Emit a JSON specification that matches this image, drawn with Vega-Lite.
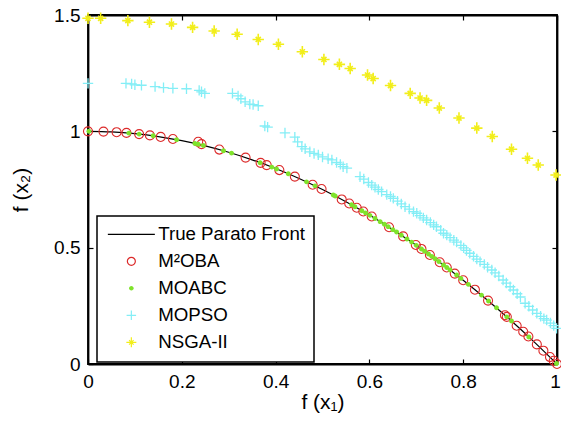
{
"$schema": "https://vega.github.io/schema/vega-lite/v6.json",
"width": 469, "height": 349,
"autosize": {"type": "none"},
"padding": {"left": 88, "top": 15, "right": 4, "bottom": 60},
"background": "white",
"config": {
  "view": {"stroke": "black", "strokeWidth": 1.8},
  "font": "Liberation Sans",
  "axis": {"grid": false, "domainColor": "black", "domainWidth": 1.8, "tickColor": "black", "tickSize": -5, "tickWidth": 1.2, "labelFont": "Liberation Sans", "labelFontSize": 19, "labelColor": "black", "labelPadding": 13, "labelFlush": false, "labelOverlap": false, "titleFont": "Liberation Sans", "titleFontSize": 21, "titleFontWeight": "normal", "titleColor": "black"},
  "legend": {"strokeColor": "black", "strokeWidth": 1.5, "fillColor": "white", "padding": 9, "symbolSize": 100, "symbolStrokeWidth": 1.2, "labelFont": "Liberation Sans", "labelFontSize": 18.7, "labelColor": "black", "labelOffset": 17.5, "symbolOffset": 16, "rowPadding": 7, "labelLimit": 400}
},
"data": {"values": [
{"series":"True Parato Front","f1":0,"f2":1},{"series":"True Parato Front","f1":0.05,"f2":0.9975},{"series":"True Parato Front","f1":0.1,"f2":0.99},{"series":"True Parato Front","f1":0.15,"f2":0.9775},{"series":"True Parato Front","f1":0.2,"f2":0.96},{"series":"True Parato Front","f1":0.25,"f2":0.9375},{"series":"True Parato Front","f1":0.3,"f2":0.91},{"series":"True Parato Front","f1":0.35,"f2":0.8775},{"series":"True Parato Front","f1":0.4,"f2":0.84},{"series":"True Parato Front","f1":0.45,"f2":0.7975},{"series":"True Parato Front","f1":0.5,"f2":0.75},{"series":"True Parato Front","f1":0.55,"f2":0.6975},{"series":"True Parato Front","f1":0.6,"f2":0.64},{"series":"True Parato Front","f1":0.65,"f2":0.5775},{"series":"True Parato Front","f1":0.7,"f2":0.51},{"series":"True Parato Front","f1":0.75,"f2":0.4375},{"series":"True Parato Front","f1":0.8,"f2":0.36},{"series":"True Parato Front","f1":0.85,"f2":0.2775},{"series":"True Parato Front","f1":0.9,"f2":0.19},{"series":"True Parato Front","f1":0.95,"f2":0.0975},{"series":"True Parato Front","f1":1,"f2":0},
{"series":"M²OBA","f1":0,"f2":1},{"series":"M²OBA","f1":0.033,"f2":0.9989},{"series":"M²OBA","f1":0.061,"f2":0.9963},{"series":"M²OBA","f1":0.082,"f2":0.9933},{"series":"M²OBA","f1":0.109,"f2":0.9881},{"series":"M²OBA","f1":0.132,"f2":0.9826},{"series":"M²OBA","f1":0.155,"f2":0.976},{"series":"M²OBA","f1":0.181,"f2":0.9672},{"series":"M²OBA","f1":0.235,"f2":0.955},{"series":"M²OBA","f1":0.242,"f2":0.945},{"series":"M²OBA","f1":0.28,"f2":0.9216},{"series":"M²OBA","f1":0.336,"f2":0.8871},{"series":"M²OBA","f1":0.368,"f2":0.8646},{"series":"M²OBA","f1":0.381,"f2":0.8548},{"series":"M²OBA","f1":0.408,"f2":0.8335},{"series":"M²OBA","f1":0.441,"f2":0.8055},{"series":"M²OBA","f1":0.479,"f2":0.7706},{"series":"M²OBA","f1":0.498,"f2":0.752},{"series":"M²OBA","f1":0.541,"f2":0.7073},{"series":"M²OBA","f1":0.557,"f2":0.6898},{"series":"M²OBA","f1":0.573,"f2":0.6717},{"series":"M²OBA","f1":0.587,"f2":0.6554},{"series":"M²OBA","f1":0.605,"f2":0.634},{"series":"M²OBA","f1":0.642,"f2":0.5878},{"series":"M²OBA","f1":0.672,"f2":0.5484},{"series":"M²OBA","f1":0.699,"f2":0.5114},{"series":"M²OBA","f1":0.711,"f2":0.4945},{"series":"M²OBA","f1":0.729,"f2":0.4686},{"series":"M²OBA","f1":0.75,"f2":0.4375},{"series":"M²OBA","f1":0.765,"f2":0.4148},{"series":"M²OBA","f1":0.782,"f2":0.3885},{"series":"M²OBA","f1":0.8,"f2":0.36},{"series":"M²OBA","f1":0.825,"f2":0.3194},{"series":"M²OBA","f1":0.853,"f2":0.2724},{"series":"M²OBA","f1":0.889,"f2":0.2097},{"series":"M²OBA","f1":0.893,"f2":0.2026},{"series":"M²OBA","f1":0.914,"f2":0.1646},{"series":"M²OBA","f1":0.928,"f2":0.1388},{"series":"M²OBA","f1":0.939,"f2":0.1183},{"series":"M²OBA","f1":0.957,"f2":0.0842},{"series":"M²OBA","f1":0.971,"f2":0.0572},{"series":"M²OBA","f1":0.985,"f2":0.0298},{"series":"M²OBA","f1":0.993,"f2":0.014},{"series":"M²OBA","f1":1,"f2":0},
{"series":"MOABC","f1":0.002,"f2":1},{"series":"MOABC","f1":0.087,"f2":0.9924},{"series":"MOABC","f1":0.109,"f2":0.9881},{"series":"MOABC","f1":0.139,"f2":0.9807},{"series":"MOABC","f1":0.189,"f2":0.9643},{"series":"MOABC","f1":0.228,"f2":0.948},{"series":"MOABC","f1":0.235,"f2":0.9448},{"series":"MOABC","f1":0.246,"f2":0.9395},{"series":"MOABC","f1":0.289,"f2":0.9165},{"series":"MOABC","f1":0.306,"f2":0.9064},{"series":"MOABC","f1":0.367,"f2":0.8653},{"series":"MOABC","f1":0.392,"f2":0.8463},{"series":"MOABC","f1":0.402,"f2":0.8384},{"series":"MOABC","f1":0.427,"f2":0.8177},{"series":"MOABC","f1":0.466,"f2":0.7828},{"series":"MOABC","f1":0.484,"f2":0.7657},{"series":"MOABC","f1":0.523,"f2":0.7265},{"series":"MOABC","f1":0.527,"f2":0.7223},{"series":"MOABC","f1":0.562,"f2":0.6842},{"series":"MOABC","f1":0.569,"f2":0.6762},{"series":"MOABC","f1":0.584,"f2":0.6589},{"series":"MOABC","f1":0.592,"f2":0.6495},{"series":"MOABC","f1":0.601,"f2":0.6388},{"series":"MOABC","f1":0.612,"f2":0.6255},{"series":"MOABC","f1":0.623,"f2":0.6119},{"series":"MOABC","f1":0.632,"f2":0.6006},{"series":"MOABC","f1":0.64,"f2":0.5904},{"series":"MOABC","f1":0.65,"f2":0.5775},{"series":"MOABC","f1":0.658,"f2":0.567},{"series":"MOABC","f1":0.668,"f2":0.5538},{"series":"MOABC","f1":0.68,"f2":0.5376},{"series":"MOABC","f1":0.69,"f2":0.5239},{"series":"MOABC","f1":0.7,"f2":0.51},{"series":"MOABC","f1":0.711,"f2":0.4945},{"series":"MOABC","f1":0.718,"f2":0.4845},{"series":"MOABC","f1":0.726,"f2":0.4729},{"series":"MOABC","f1":0.733,"f2":0.4627},{"series":"MOABC","f1":0.74,"f2":0.4524},{"series":"MOABC","f1":0.748,"f2":0.4405},{"series":"MOABC","f1":0.758,"f2":0.4254},{"series":"MOABC","f1":0.765,"f2":0.4148},{"series":"MOABC","f1":0.772,"f2":0.404},{"series":"MOABC","f1":0.786,"f2":0.3822},{"series":"MOABC","f1":0.795,"f2":0.368},{"series":"MOABC","f1":0.811,"f2":0.3423},{"series":"MOABC","f1":0.839,"f2":0.2961},{"series":"MOABC","f1":0.854,"f2":0.2707},{"series":"MOABC","f1":0.871,"f2":0.2414},{"series":"MOABC","f1":0.893,"f2":0.2026},{"series":"MOABC","f1":0.903,"f2":0.1846},{"series":"MOABC","f1":0.94,"f2":0.1164},{"series":"MOABC","f1":0.999,"f2":0.002},
{"series":"MOPSO","f1":0,"f2":1.206},{"series":"MOPSO","f1":0.081,"f2":1.206},{"series":"MOPSO","f1":0.093,"f2":1.204},{"series":"MOPSO","f1":0.1,"f2":1.2},{"series":"MOPSO","f1":0.114,"f2":1.198},{"series":"MOPSO","f1":0.143,"f2":1.192},{"series":"MOPSO","f1":0.161,"f2":1.188},{"series":"MOPSO","f1":0.181,"f2":1.185},{"series":"MOPSO","f1":0.21,"f2":1.183},{"series":"MOPSO","f1":0.237,"f2":1.176},{"series":"MOPSO","f1":0.242,"f2":1.17},{"series":"MOPSO","f1":0.249,"f2":1.163},{"series":"MOPSO","f1":0.308,"f2":1.163},{"series":"MOPSO","f1":0.32,"f2":1.152},{"series":"MOPSO","f1":0.326,"f2":1.14},{"series":"MOPSO","f1":0.335,"f2":1.127},{"series":"MOPSO","f1":0.345,"f2":1.117},{"series":"MOPSO","f1":0.352,"f2":1.115},{"series":"MOPSO","f1":0.363,"f2":1.11},{"series":"MOPSO","f1":0.377,"f2":1.023},{"series":"MOPSO","f1":0.383,"f2":1.018},{"series":"MOPSO","f1":0.42,"f2":0.993},{"series":"MOPSO","f1":0.441,"f2":0.975},{"series":"MOPSO","f1":0.447,"f2":0.955},{"series":"MOPSO","f1":0.456,"f2":0.934},{"series":"MOPSO","f1":0.463,"f2":0.925},{"series":"MOPSO","f1":0.473,"f2":0.912},{"series":"MOPSO","f1":0.482,"f2":0.905},{"series":"MOPSO","f1":0.491,"f2":0.899},{"series":"MOPSO","f1":0.5,"f2":0.89},{"series":"MOPSO","f1":0.512,"f2":0.882},{"series":"MOPSO","f1":0.52,"f2":0.877},{"series":"MOPSO","f1":0.53,"f2":0.866},{"series":"MOPSO","f1":0.538,"f2":0.858},{"series":"MOPSO","f1":0.544,"f2":0.848},{"series":"MOPSO","f1":0.552,"f2":0.842},{"series":"MOPSO","f1":0.58,"f2":0.805},{"series":"MOPSO","f1":0.588,"f2":0.795},{"series":"MOPSO","f1":0.598,"f2":0.78},{"series":"MOPSO","f1":0.605,"f2":0.769},{"series":"MOPSO","f1":0.612,"f2":0.76},{"series":"MOPSO","f1":0.619,"f2":0.75},{"series":"MOPSO","f1":0.626,"f2":0.741},{"series":"MOPSO","f1":0.637,"f2":0.728},{"series":"MOPSO","f1":0.645,"f2":0.72},{"series":"MOPSO","f1":0.651,"f2":0.712},{"series":"MOPSO","f1":0.66,"f2":0.7},{"series":"MOPSO","f1":0.668,"f2":0.688},{"series":"MOPSO","f1":0.676,"f2":0.676},{"series":"MOPSO","f1":0.685,"f2":0.666},{"series":"MOPSO","f1":0.694,"f2":0.655},{"series":"MOPSO","f1":0.701,"f2":0.648},{"series":"MOPSO","f1":0.708,"f2":0.638},{"series":"MOPSO","f1":0.715,"f2":0.628},{"series":"MOPSO","f1":0.722,"f2":0.619},{"series":"MOPSO","f1":0.73,"f2":0.608},{"series":"MOPSO","f1":0.737,"f2":0.598},{"series":"MOPSO","f1":0.743,"f2":0.59},{"series":"MOPSO","f1":0.752,"f2":0.575},{"series":"MOPSO","f1":0.758,"f2":0.562},{"series":"MOPSO","f1":0.765,"f2":0.554},{"series":"MOPSO","f1":0.772,"f2":0.543},{"series":"MOPSO","f1":0.78,"f2":0.532},{"series":"MOPSO","f1":0.786,"f2":0.524},{"series":"MOPSO","f1":0.795,"f2":0.51},{"series":"MOPSO","f1":0.801,"f2":0.499},{"series":"MOPSO","f1":0.807,"f2":0.488},{"series":"MOPSO","f1":0.814,"f2":0.476},{"series":"MOPSO","f1":0.822,"f2":0.463},{"series":"MOPSO","f1":0.829,"f2":0.451},{"series":"MOPSO","f1":0.836,"f2":0.44},{"series":"MOPSO","f1":0.845,"f2":0.428},{"series":"MOPSO","f1":0.852,"f2":0.416},{"series":"MOPSO","f1":0.861,"f2":0.404},{"series":"MOPSO","f1":0.868,"f2":0.392},{"series":"MOPSO","f1":0.876,"f2":0.378},{"series":"MOPSO","f1":0.885,"f2":0.361},{"series":"MOPSO","f1":0.892,"f2":0.348},{"series":"MOPSO","f1":0.9,"f2":0.332},{"series":"MOPSO","f1":0.907,"f2":0.318},{"series":"MOPSO","f1":0.915,"f2":0.302},{"series":"MOPSO","f1":0.922,"f2":0.288},{"series":"MOPSO","f1":0.932,"f2":0.261},{"series":"MOPSO","f1":0.94,"f2":0.248},{"series":"MOPSO","f1":0.948,"f2":0.232},{"series":"MOPSO","f1":0.957,"f2":0.218},{"series":"MOPSO","f1":0.965,"f2":0.205},{"series":"MOPSO","f1":0.972,"f2":0.195},{"series":"MOPSO","f1":0.978,"f2":0.189},{"series":"MOPSO","f1":0.986,"f2":0.176},{"series":"MOPSO","f1":0.993,"f2":0.165},{"series":"MOPSO","f1":0.999,"f2":0.153},
{"series":"NSGA-II","f1":0,"f2":1.486},{"series":"NSGA-II","f1":0.027,"f2":1.486},{"series":"NSGA-II","f1":0.085,"f2":1.476},{"series":"NSGA-II","f1":0.131,"f2":1.469},{"series":"NSGA-II","f1":0.178,"f2":1.461},{"series":"NSGA-II","f1":0.223,"f2":1.447},{"series":"NSGA-II","f1":0.269,"f2":1.431},{"series":"NSGA-II","f1":0.318,"f2":1.417},{"series":"NSGA-II","f1":0.363,"f2":1.395},{"series":"NSGA-II","f1":0.406,"f2":1.374},{"series":"NSGA-II","f1":0.457,"f2":1.342},{"series":"NSGA-II","f1":0.503,"f2":1.309},{"series":"NSGA-II","f1":0.536,"f2":1.288},{"series":"NSGA-II","f1":0.559,"f2":1.27},{"series":"NSGA-II","f1":0.596,"f2":1.242},{"series":"NSGA-II","f1":0.608,"f2":1.227},{"series":"NSGA-II","f1":0.645,"f2":1.197},{"series":"NSGA-II","f1":0.687,"f2":1.163},{"series":"NSGA-II","f1":0.708,"f2":1.143},{"series":"NSGA-II","f1":0.722,"f2":1.133},{"series":"NSGA-II","f1":0.749,"f2":1.1},{"series":"NSGA-II","f1":0.791,"f2":1.057},{"series":"NSGA-II","f1":0.829,"f2":1.014},{"series":"NSGA-II","f1":0.862,"f2":0.978},{"series":"NSGA-II","f1":0.903,"f2":0.923},{"series":"NSGA-II","f1":0.937,"f2":0.884},{"series":"NSGA-II","f1":0.96,"f2":0.855},{"series":"NSGA-II","f1":0.998,"f2":0.812}
]},
"layer": [
 {"transform": [{"filter": "datum.series === 'True Parato Front'"}],
  "mark": {"type": "line", "strokeWidth": 1.2, "interpolate": "monotone"},
  "encoding": {
   "x": {"field": "f1", "type": "quantitative", "scale": {"domain": [0, 1], "nice": false, "zero": false}, "axis": {"orient": "bottom", "title": "f (x₁)", "values": [0, 0.2, 0.4, 0.6, 0.8, 1], "format": "~g", "titlePadding": 0, "labelOffset": {"condition": {"test": "datum.value === 1", "value": -2}, "value": 0}}},
   "y": {"field": "f2", "type": "quantitative", "scale": {"domain": [0, 1.5], "nice": false, "zero": false}, "axis": {"orient": "left", "title": "f (x₂)", "values": [0, 0.5, 1, 1.5], "format": "~g", "titlePadding": 22}},
   "stroke": {"field": "series", "type": "nominal", "scale": {"domain": ["True Parato Front", "M²OBA", "MOABC", "MOPSO", "NSGA-II"], "range": ["#000000", "#dc2a2a", "transparent", "#84eef6", "#f2ee1a"]}, "legend": {"orient": "none", "legendX": 9, "legendY": 201, "title": null}}
  }},
 {"transform": [{"filter": "datum.series === 'M²OBA'"}],
  "mark": {"type": "point", "size": 127, "strokeWidth": 1.1, "opacity": 1},
  "encoding": {
   "x": {"field": "f1", "type": "quantitative", "scale": {"domain": [0, 1], "nice": false, "zero": false}, "axis": {"orient": "top", "labels": false, "title": null, "values": [0, 0.2, 0.4, 0.6, 0.8, 1]}},
   "y": {"field": "f2", "type": "quantitative", "scale": {"domain": [0, 1.5], "nice": false, "zero": false}, "axis": {"orient": "right", "labels": false, "title": null, "values": [0, 0.5, 1, 1.5]}},
   "stroke": {"field": "series", "type": "nominal", "scale": {"domain": ["True Parato Front", "M²OBA", "MOABC", "MOPSO", "NSGA-II"], "range": ["#000000", "#dc2a2a", "transparent", "#84eef6", "#f2ee1a"]}, "legend": {"orient": "none", "legendX": 9, "legendY": 201, "title": null}},
   "fill": {"field": "series", "type": "nominal", "scale": {"domain": ["True Parato Front", "M²OBA", "MOABC", "MOPSO", "NSGA-II"], "range": ["transparent", "transparent", "#7fe32b", "transparent", "transparent"]}, "legend": {"orient": "none", "legendX": 9, "legendY": 201, "title": null}},
   "shape": {"field": "series", "type": "nominal", "scale": {"domain": ["True Parato Front", "M²OBA", "MOABC", "MOPSO", "NSGA-II"], "range": ["M-4.7,0L4.7,0", "M-0.8,0A0.8,0.8,0,1,0,0.8,0A0.8,0.8,0,1,0,-0.8,0Z", "M-0.45,0A0.45,0.45,0,1,0,0.45,0A0.45,0.45,0,1,0,-0.45,0Z", "M-0.95,0L0.95,0M0,-0.95L0,0.95", "M-1,0L1,0M0,-1L0,1M-0.45,-0.45L0.45,0.45M-0.45,0.45L0.45,-0.45"]}, "legend": {"orient": "none", "legendX": 9, "legendY": 201, "title": null}}
  }},
 {"transform": [{"filter": "datum.series === 'MOABC'"}],
  "mark": {"type": "point", "size": 120, "strokeWidth": 0, "opacity": 1},
  "encoding": {
   "x": {"field": "f1", "type": "quantitative", "scale": {"domain": [0, 1], "nice": false, "zero": false}, "axis": null},
   "y": {"field": "f2", "type": "quantitative", "scale": {"domain": [0, 1.5], "nice": false, "zero": false}, "axis": null},
   "stroke": {"field": "series", "type": "nominal", "scale": {"domain": ["True Parato Front", "M²OBA", "MOABC", "MOPSO", "NSGA-II"], "range": ["#000000", "#dc2a2a", "transparent", "#84eef6", "#f2ee1a"]}, "legend": {"orient": "none", "legendX": 9, "legendY": 201, "title": null}},
   "fill": {"field": "series", "type": "nominal", "scale": {"domain": ["True Parato Front", "M²OBA", "MOABC", "MOPSO", "NSGA-II"], "range": ["transparent", "transparent", "#7fe32b", "transparent", "transparent"]}, "legend": {"orient": "none", "legendX": 9, "legendY": 201, "title": null}},
   "shape": {"field": "series", "type": "nominal", "scale": {"domain": ["True Parato Front", "M²OBA", "MOABC", "MOPSO", "NSGA-II"], "range": ["M-4.7,0L4.7,0", "M-0.8,0A0.8,0.8,0,1,0,0.8,0A0.8,0.8,0,1,0,-0.8,0Z", "M-0.45,0A0.45,0.45,0,1,0,0.45,0A0.45,0.45,0,1,0,-0.45,0Z", "M-0.95,0L0.95,0M0,-0.95L0,0.95", "M-1,0L1,0M0,-1L0,1M-0.45,-0.45L0.45,0.45M-0.45,0.45L0.45,-0.45"]}, "legend": {"orient": "none", "legendX": 9, "legendY": 201, "title": null}}
  }},
 {"transform": [{"filter": "datum.series === 'MOPSO'"}],
  "mark": {"type": "point", "size": 120, "strokeWidth": 1.3, "opacity": 1},
  "encoding": {
   "x": {"field": "f1", "type": "quantitative", "scale": {"domain": [0, 1], "nice": false, "zero": false}, "axis": null},
   "y": {"field": "f2", "type": "quantitative", "scale": {"domain": [0, 1.5], "nice": false, "zero": false}, "axis": null},
   "stroke": {"field": "series", "type": "nominal", "scale": {"domain": ["True Parato Front", "M²OBA", "MOABC", "MOPSO", "NSGA-II"], "range": ["#000000", "#dc2a2a", "transparent", "#84eef6", "#f2ee1a"]}, "legend": {"orient": "none", "legendX": 9, "legendY": 201, "title": null}},
   "fill": {"field": "series", "type": "nominal", "scale": {"domain": ["True Parato Front", "M²OBA", "MOABC", "MOPSO", "NSGA-II"], "range": ["transparent", "transparent", "#7fe32b", "transparent", "transparent"]}, "legend": {"orient": "none", "legendX": 9, "legendY": 201, "title": null}},
   "shape": {"field": "series", "type": "nominal", "scale": {"domain": ["True Parato Front", "M²OBA", "MOABC", "MOPSO", "NSGA-II"], "range": ["M-4.7,0L4.7,0", "M-0.8,0A0.8,0.8,0,1,0,0.8,0A0.8,0.8,0,1,0,-0.8,0Z", "M-0.45,0A0.45,0.45,0,1,0,0.45,0A0.45,0.45,0,1,0,-0.45,0Z", "M-0.95,0L0.95,0M0,-0.95L0,0.95", "M-1,0L1,0M0,-1L0,1M-0.45,-0.45L0.45,0.45M-0.45,0.45L0.45,-0.45"]}, "legend": {"orient": "none", "legendX": 9, "legendY": 201, "title": null}}
  }},
 {"transform": [{"filter": "datum.series === 'NSGA-II'"}],
  "mark": {"type": "point", "size": 130, "strokeWidth": 1.6, "opacity": 1},
  "encoding": {
   "x": {"field": "f1", "type": "quantitative", "scale": {"domain": [0, 1], "nice": false, "zero": false}, "axis": null},
   "y": {"field": "f2", "type": "quantitative", "scale": {"domain": [0, 1.5], "nice": false, "zero": false}, "axis": null},
   "stroke": {"field": "series", "type": "nominal", "scale": {"domain": ["True Parato Front", "M²OBA", "MOABC", "MOPSO", "NSGA-II"], "range": ["#000000", "#dc2a2a", "transparent", "#84eef6", "#f2ee1a"]}, "legend": {"orient": "none", "legendX": 9, "legendY": 201, "title": null}},
   "fill": {"field": "series", "type": "nominal", "scale": {"domain": ["True Parato Front", "M²OBA", "MOABC", "MOPSO", "NSGA-II"], "range": ["transparent", "transparent", "#7fe32b", "transparent", "transparent"]}, "legend": {"orient": "none", "legendX": 9, "legendY": 201, "title": null}},
   "shape": {"field": "series", "type": "nominal", "scale": {"domain": ["True Parato Front", "M²OBA", "MOABC", "MOPSO", "NSGA-II"], "range": ["M-4.7,0L4.7,0", "M-0.8,0A0.8,0.8,0,1,0,0.8,0A0.8,0.8,0,1,0,-0.8,0Z", "M-0.45,0A0.45,0.45,0,1,0,0.45,0A0.45,0.45,0,1,0,-0.45,0Z", "M-0.95,0L0.95,0M0,-0.95L0,0.95", "M-1,0L1,0M0,-1L0,1M-0.45,-0.45L0.45,0.45M-0.45,0.45L0.45,-0.45"]}, "legend": {"orient": "none", "legendX": 9, "legendY": 201, "title": null}}
  }}
],
"resolve": {"axis": {"x": "independent", "y": "independent"}}
}
